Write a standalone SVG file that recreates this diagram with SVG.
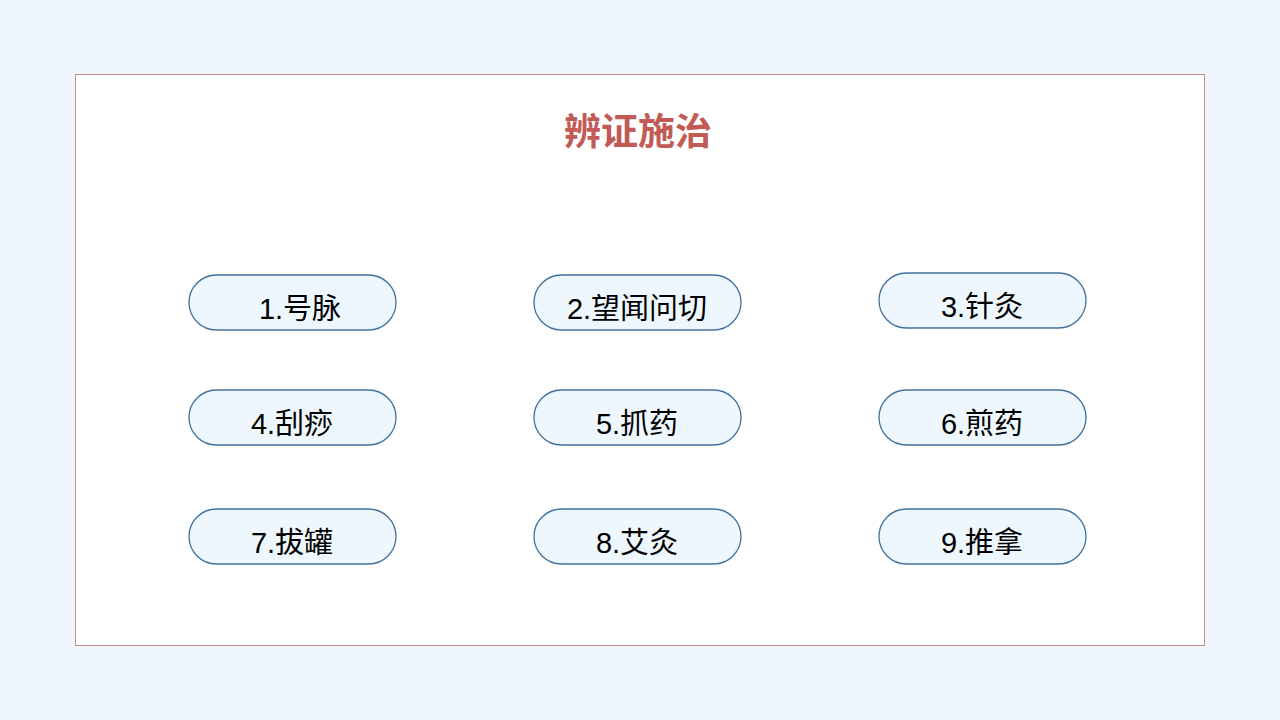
<svg xmlns="http://www.w3.org/2000/svg" width="1280" height="720" viewBox="0 0 1280 720">
<style>
.n rect{fill:#EEF7FD;stroke:#41719C;stroke-width:1.3}
.n text{font-family:"Liberation Sans","Noto Sans CJK SC",sans-serif;font-size:29px;fill:#000;text-anchor:middle}
.t{font-family:"Liberation Sans","Noto Sans CJK SC",sans-serif;font-size:37px;font-weight:bold;fill:#C25A55;text-anchor:middle}
</style>
<rect x="0" y="0" width="1280" height="720" fill="#EFF7FD"/>
<rect x="75.5" y="74.5" width="1129" height="571" fill="#FFFFFF" stroke="#C98A8A" stroke-width="1"/>
<text class="t" x="638" y="145">辨证施治</text>
<g id="n1" class="n"><rect x="189" y="275" width="207" height="55" rx="27.5"/><text x="300" y="319">1.号脉</text></g>
<g id="n2" class="n"><rect x="534" y="275" width="207" height="55" rx="27.5"/><text x="637" y="319">2.望闻问切</text></g>
<g id="n3" class="n"><rect x="879" y="273" width="207" height="55" rx="27.5"/><text x="982" y="317">3.针灸</text></g>
<g id="n4" class="n"><rect x="189" y="390" width="207" height="55" rx="27.5"/><text x="292" y="434">4.刮痧</text></g>
<g id="n5" class="n"><rect x="534" y="390" width="207" height="55" rx="27.5"/><text x="637" y="434">5.抓药</text></g>
<g id="n6" class="n"><rect x="879" y="390" width="207" height="55" rx="27.5"/><text x="982" y="434">6.煎药</text></g>
<g id="n7" class="n"><rect x="189" y="509" width="207" height="55" rx="27.5"/><text x="292" y="553">7.拔罐</text></g>
<g id="n8" class="n"><rect x="534" y="509" width="207" height="55" rx="27.5"/><text x="637" y="553">8.艾灸</text></g>
<g id="n9" class="n"><rect x="879" y="509" width="207" height="55" rx="27.5"/><text x="982" y="553">9.推拿</text></g>
<g id="connectors"></g>
</svg>
